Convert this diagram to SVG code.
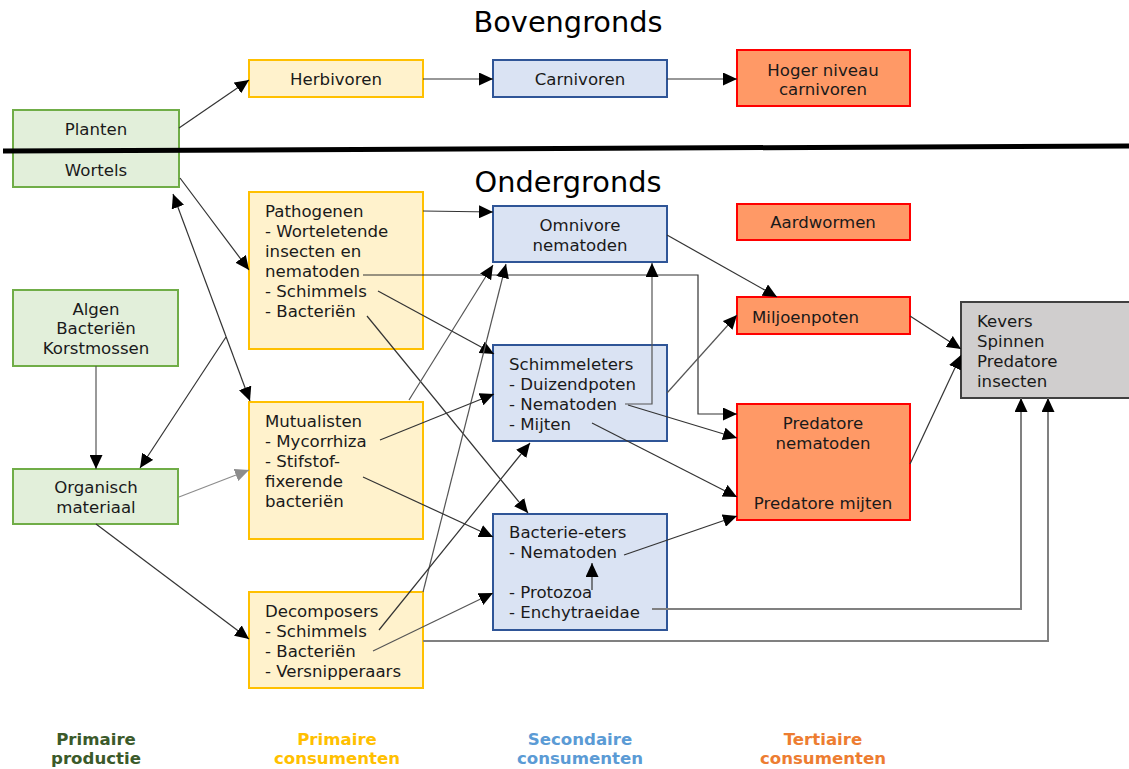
<svg xmlns="http://www.w3.org/2000/svg" width="1129" height="769" viewBox="0 0 1129 769">
<style>
  text { font-family: "DejaVu Sans", Verdana, sans-serif; font-size: 16.6px; fill: #1a1a1a; }
  .c { text-anchor: middle; }
  .title { font-size: 28.8px; fill: #000; }
  .leg { font-weight: bold; font-size: 16.6px; text-anchor: middle; }
  .g { fill: #e2efda; stroke: #70ad47; stroke-width: 2; }
  .y { fill: #fff2cc; stroke: #ffc000; stroke-width: 2; }
  .b { fill: #dae3f3; stroke: #2f5597; stroke-width: 2; }
  .o { fill: #ff9966; stroke: #ff0000; stroke-width: 2; }
  .k { fill: #d0cece; stroke: #404040; stroke-width: 2; }
  .ln { fill: none; stroke: #333; stroke-width: 1.2; marker-end: url(#ah); }
  .lg { fill: none; stroke: #555; stroke-width: 1.2; marker-end: url(#ah); }
  .lt { fill: none; stroke: #8c8c8c; stroke-width: 1.2; marker-end: url(#ahg); }
  .lw { fill: none; stroke: #808080; stroke-width: 2; marker-end: url(#ah); }
</style>
<defs>
  <marker id="ah" markerUnits="userSpaceOnUse" markerWidth="15" markerHeight="13" refX="14" refY="6.5" orient="auto">
    <path d="M0,0 L14,6.5 L0,13 Z" fill="#000"/>
  </marker>
  <marker id="ahs" markerUnits="userSpaceOnUse" markerWidth="15" markerHeight="13" refX="14" refY="6.5" orient="auto-start-reverse">
    <path d="M0,0 L14,6.5 L0,13 Z" fill="#000"/>
  </marker>
  <marker id="ahg" markerUnits="userSpaceOnUse" markerWidth="15" markerHeight="13" refX="14" refY="6.5" orient="auto">
    <path d="M0,0 L14,6.5 L0,13 Z" fill="#8c8c8c"/>
  </marker>
</defs>

<text class="title c" x="568" y="32">Bovengronds</text>
<text class="title c" x="568" y="192">Ondergronds</text>

<g id="planten">
  <rect class="g" x="13" y="110" width="166" height="77"/>
  <text class="c" x="96" y="135">Planten</text>
  <text class="c" x="96" y="176">Wortels</text>
</g>
<line x1="3" y1="151" x2="1129" y2="146" stroke="#000" stroke-width="5"/>

<g id="herbivoren">
  <rect class="y" x="249" y="60" width="174" height="37"/>
  <text class="c" x="336" y="85">Herbivoren</text>
</g>
<g id="carnivoren">
  <rect class="b" x="493" y="60" width="174" height="37"/>
  <text class="c" x="580" y="85">Carnivoren</text>
</g>
<g id="hoger">
  <rect class="o" x="737" y="50" width="173" height="56"/>
  <text class="c" x="823" y="76">Hoger niveau</text>
  <text class="c" x="823" y="95">carnivoren</text>
</g>
<g id="pathogenen">
  <rect class="y" x="249" y="192" width="174" height="157"/>
  <text x="265" y="217">Pathogenen</text>
  <text x="265" y="237">- Worteletende</text>
  <text x="265" y="257">insecten en</text>
  <text x="265" y="277">nematoden</text>
  <text x="265" y="297">- Schimmels</text>
  <text x="265" y="317">- Bacteriën</text>
</g>
<g id="omnivore">
  <rect class="b" x="493" y="206" width="174" height="56"/>
  <text class="c" x="580" y="231">Omnivore</text>
  <text class="c" x="580" y="251">nematoden</text>
</g>
<g id="aardwormen">
  <rect class="o" x="737" y="204" width="173" height="36"/>
  <text class="c" x="823" y="228">Aardwormen</text>
</g>
<g id="algen">
  <rect class="g" x="13" y="290" width="165" height="76"/>
  <text class="c" x="96" y="315">Algen</text>
  <text class="c" x="96" y="334">Bacteriën</text>
  <text class="c" x="96" y="354">Korstmossen</text>
</g>
<g id="miljoenpoten">
  <rect class="o" x="737" y="297" width="173" height="37"/>
  <text x="752" y="323">Miljoenpoten</text>
</g>
<g id="kevers">
  <rect class="k" x="961" y="302" width="176" height="96"/>
  <text x="977" y="327">Kevers</text>
  <text x="977" y="347">Spinnen</text>
  <text x="977" y="367">Predatore</text>
  <text x="977" y="387">insecten</text>
</g>
<g id="schimmeleters">
  <rect class="b" x="493" y="345" width="174" height="96"/>
  <text x="509" y="370">Schimmeleters</text>
  <text x="509" y="390">- Duizendpoten</text>
  <text x="509" y="410">- Nematoden</text>
  <text x="509" y="430">- Mijten</text>
</g>
<g id="mutualisten">
  <rect class="y" x="249" y="402" width="174" height="137"/>
  <text x="265" y="427">Mutualisten</text>
  <text x="265" y="447">- Mycorrhiza</text>
  <text x="265" y="467">- Stifstof-</text>
  <text x="265" y="487">fixerende</text>
  <text x="265" y="507">bacteriën</text>
</g>
<g id="predatore">
  <rect class="o" x="737" y="404" width="173" height="116"/>
  <text class="c" x="823" y="429">Predatore</text>
  <text class="c" x="823" y="449">nematoden</text>
  <text class="c" x="823" y="509">Predatore mijten</text>
</g>
<g id="organisch">
  <rect class="g" x="13" y="469" width="165" height="55"/>
  <text class="c" x="96" y="493">Organisch</text>
  <text class="c" x="96" y="513">materiaal</text>
</g>
<g id="bacterie-eters">
  <rect class="b" x="493" y="514" width="174" height="116"/>
  <text x="509" y="538">Bacterie-eters</text>
  <text x="509" y="558">- Nematoden</text>
  <text x="509" y="598">- Protozoa</text>
  <text x="509" y="618">- Enchytraeidae</text>
</g>
<g id="decomposers">
  <rect class="y" x="249" y="592" width="174" height="96"/>
  <text x="265" y="617">Decomposers</text>
  <text x="265" y="637">- Schimmels</text>
  <text x="265" y="657">- Bacteriën</text>
  <text x="265" y="677">- Versnipperaars</text>
</g>

<g id="connectors">
  <path class="ln" d="M179,128 L249,80"/>
  <path class="ln" d="M423,79 L493,79"/>
  <path class="ln" d="M667,79 L737,79"/>
  <path class="ln" d="M180,178 L249,270"/>
  <path class="ln" d="M173,194 L250,401" marker-start="url(#ahs)"/>
  <path class="lg" d="M96,366 L96,469"/>
  <path class="ln" d="M226,337 L140,468"/>
  <path class="lt" d="M179,497 L249,470"/>
  <path class="ln" d="M96,524 L249,639"/>
  <path class="ln" d="M423,211 L493,212"/>
  <path class="ln" d="M363,275 L698,275 L698,414 L737,414"/>
  <path class="ln" d="M378,291 L494,354"/>
  <path class="ln" d="M367,316 L528,513"/>
  <path class="lg" d="M409,400 L493,265"/>
  <path class="lg" d="M423,592 L506,264"/>
  <path class="ln" d="M380,440 L494,394"/>
  <path class="ln" d="M363,477 L493,537"/>
  <path class="ln" d="M379,630 L530,443"/>
  <path class="lg" d="M373,651 L493,593"/>
  <path class="lw" d="M423,641 L1048,641 L1048,398"/>
  <path class="lw" d="M652,609 L1021,609 L1021,398"/>
  <path class="ln" d="M592,590 L592,563"/>
  <path class="ln" d="M624,555 L737,516"/>
  <path class="ln" d="M667,235 L777,297"/>
  <path class="lg" d="M667,393 L737,315"/>
  <path class="lg" d="M625,404 L652,404 L652,263"/>
  <path class="ln" d="M628,405 L737,438"/>
  <path class="ln" d="M592,423 L737,497"/>
  <path class="ln" d="M910,316 L961,349"/>
  <path class="ln" d="M910,464 L961,355"/>
</g>

<g id="legend">
  <text class="leg" x="96" y="745" style="fill:#3b5a2a">Primaire</text>
  <text class="leg" x="96" y="764" style="fill:#3b5a2a">productie</text>
  <text class="leg" x="337" y="745" style="fill:#ffc000">Primaire</text>
  <text class="leg" x="337" y="764" style="fill:#ffc000">consumenten</text>
  <text class="leg" x="580" y="745" style="fill:#5b9bd5">Secondaire</text>
  <text class="leg" x="580" y="764" style="fill:#5b9bd5">consumenten</text>
  <text class="leg" x="823" y="745" style="fill:#ed7d31">Tertiaire</text>
  <text class="leg" x="823" y="764" style="fill:#ed7d31">consumenten</text>
</g>
</svg>
